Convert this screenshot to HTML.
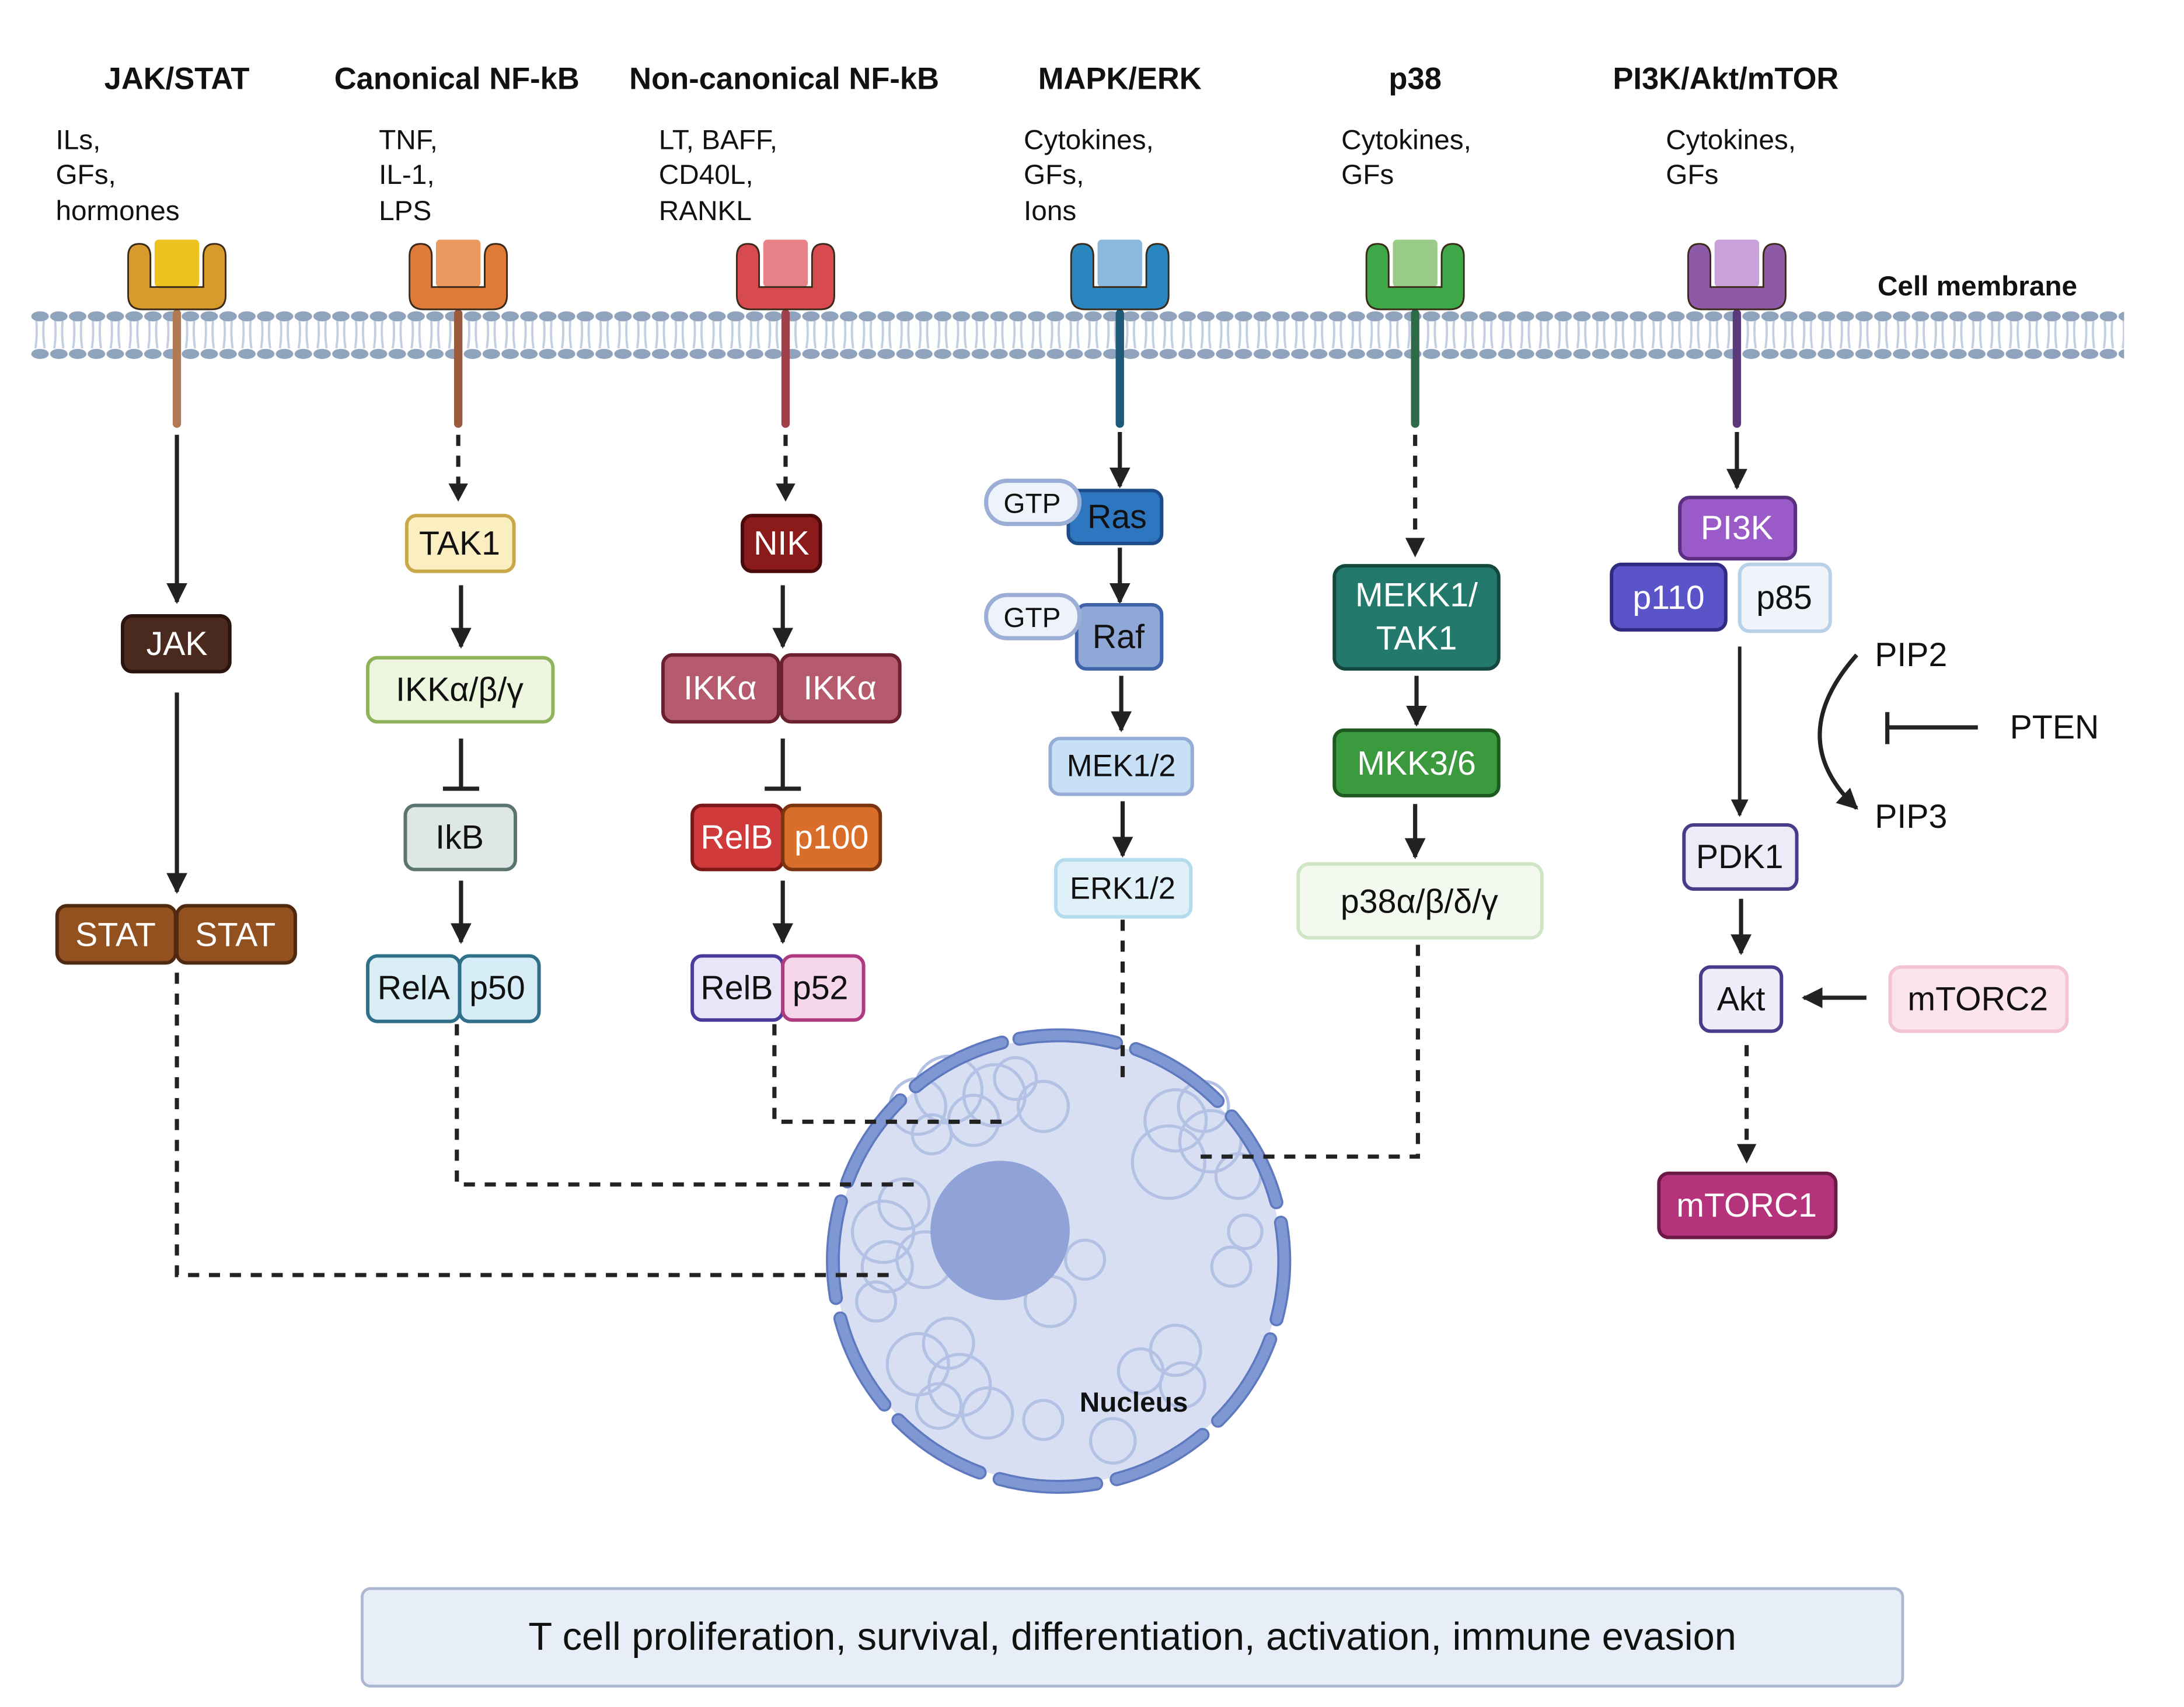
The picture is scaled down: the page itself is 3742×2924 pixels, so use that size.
<!DOCTYPE html>
<html><head><meta charset="utf-8"><style>
html,body{margin:0;padding:0;background:#fff}
svg{display:block}
text{font-family:"Liberation Sans",sans-serif}
</style></head><body>
<svg width="3742" height="2924" viewBox="0 0 1568 1225" preserveAspectRatio="none" xmlns="http://www.w3.org/2000/svg">
<defs>
<marker id="ah" viewBox="0 0 10 10" refX="9" refY="5" markerWidth="5" markerHeight="5" orient="auto" markerUnits="strokeWidth"><path d="M0,0 L10,5 L0,10 z" fill="#222"/></marker>
<pattern id="mem" x="22" y="0" width="13.5" height="1211" patternUnits="userSpaceOnUse">
<path d="M4,229 Q5,240 3.5,250 M9.5,229 Q8.5,240 10,250" stroke="#c3cfe0" stroke-width="1.6" fill="none"/>
<ellipse cx="6.75" cy="227" rx="6.3" ry="3.6" fill="#8fa3bd"/>
<ellipse cx="6.75" cy="254" rx="6.3" ry="3.6" fill="#8fa3bd"/>
</pattern>
</defs>
<rect width="1568" height="1225" fill="#fff"/>

<g font-weight="bold" font-size="22" text-anchor="middle" fill="#111">
<text x="127" y="64">JAK/STAT</text>
<text x="328" y="64">Canonical NF-kB</text>
<text x="563" y="64">Non-canonical NF-kB</text>
<text x="804" y="64">MAPK/ERK</text>
<text x="1016" y="64">p38</text>
<text x="1239" y="64">PI3K/Akt/mTOR</text>
</g>
<g font-size="20" fill="#111">
<text x="40" y="107">ILs,</text><text x="40" y="132">GFs,</text><text x="40" y="158">hormones</text>
<text x="272" y="107">TNF,</text><text x="272" y="132">IL-1,</text><text x="272" y="158">LPS</text>
<text x="473" y="107">LT, BAFF,</text><text x="473" y="132">CD40L,</text><text x="473" y="158">RANKL</text>
<text x="735" y="107">Cytokines,</text><text x="735" y="132">GFs,</text><text x="735" y="158">Ions</text>
<text x="963" y="107">Cytokines,</text><text x="963" y="132">GFs</text>
<text x="1196" y="107">Cytokines,</text><text x="1196" y="132">GFs</text>
</g>
<text x="1348" y="212" font-size="20" font-weight="bold" fill="#111">Cell membrane</text>

<rect x="22" y="220" width="1503" height="40" fill="url(#mem)"/>

<g stroke="#3a2a1a" stroke-width="1.2">
<g transform="translate(127,0)"><rect x="-3" y="222" width="6" height="85" rx="3" fill="#b07a55" stroke="none"/><rect x="-16" y="172" width="32" height="34" rx="3" fill="#eec21f" stroke="none"/><path d="M-35,184 q0,-9 8,-9 q8,0 8,9 v22 h38 v-22 q0,-9 8,-9 q8,0 8,9 v28 q0,10 -10,10 h-50 q-10,0 -10,-10z" fill="#d79a2c"/></g>
<g transform="translate(329,0)"><rect x="-3" y="222" width="6" height="85" rx="3" fill="#9a5a3e" stroke="none"/><rect x="-16" y="172" width="32" height="34" rx="3" fill="#ea9a5e" stroke="none"/><path d="M-35,184 q0,-9 8,-9 q8,0 8,9 v22 h38 v-22 q0,-9 8,-9 q8,0 8,9 v28 q0,10 -10,10 h-50 q-10,0 -10,-10z" fill="#e07a38"/></g>
<g transform="translate(564,0)"><rect x="-3" y="222" width="6" height="85" rx="3" fill="#a0404a" stroke="none"/><rect x="-16" y="172" width="32" height="34" rx="3" fill="#e88088" stroke="none"/><path d="M-35,184 q0,-9 8,-9 q8,0 8,9 v22 h38 v-22 q0,-9 8,-9 q8,0 8,9 v28 q0,10 -10,10 h-50 q-10,0 -10,-10z" fill="#d64a50"/></g>
<g transform="translate(804,0)"><rect x="-3" y="222" width="6" height="85" rx="3" fill="#1e5a78" stroke="none"/><rect x="-16" y="172" width="32" height="34" rx="3" fill="#8cb8dc" stroke="none"/><path d="M-35,184 q0,-9 8,-9 q8,0 8,9 v22 h38 v-22 q0,-9 8,-9 q8,0 8,9 v28 q0,10 -10,10 h-50 q-10,0 -10,-10z" fill="#2a86be"/></g>
<g transform="translate(1016,0)"><rect x="-3" y="222" width="6" height="85" rx="3" fill="#2c6a48" stroke="none"/><rect x="-16" y="172" width="32" height="34" rx="3" fill="#98cc88" stroke="none"/><path d="M-35,184 q0,-9 8,-9 q8,0 8,9 v22 h38 v-22 q0,-9 8,-9 q8,0 8,9 v28 q0,10 -10,10 h-50 q-10,0 -10,-10z" fill="#3ea848"/></g>
<g transform="translate(1247,0)"><rect x="-3" y="222" width="6" height="85" rx="3" fill="#5a3a7a" stroke="none"/><rect x="-16" y="172" width="32" height="34" rx="3" fill="#c8a2d8" stroke="none"/><path d="M-35,184 q0,-9 8,-9 q8,0 8,9 v22 h38 v-22 q0,-9 8,-9 q8,0 8,9 v28 q0,10 -10,10 h-50 q-10,0 -10,-10z" fill="#8e5aa8"/></g>
</g>

<circle cx="760" cy="905" r="160" fill="#d9dff2"/>
<g fill="none" stroke="#b3c1e4" stroke-width="2.2" transform="translate(9,4)">
<circle cx="650" cy="790" r="20"/><circle cx="672" cy="778" r="24"/><circle cx="690" cy="800" r="18"/><circle cx="705" cy="782" r="22"/><circle cx="720" cy="770" r="15"/><circle cx="740" cy="790" r="18"/><circle cx="660" cy="810" r="14"/>
<circle cx="835" cy="800" r="22"/><circle cx="855" cy="790" r="18"/><circle cx="860" cy="815" r="22"/><circle cx="830" cy="830" r="26"/><circle cx="880" cy="840" r="16"/>
<circle cx="625" cy="880" r="22"/><circle cx="640" cy="860" r="18"/><circle cx="628" cy="905" r="18"/><circle cx="655" cy="900" r="20"/><circle cx="620" cy="930" r="14"/>
<circle cx="650" cy="975" r="22"/><circle cx="672" cy="960" r="18"/><circle cx="680" cy="990" r="22"/><circle cx="700" cy="1010" r="18"/><circle cx="740" cy="1015" r="14"/><circle cx="665" cy="1005" r="16"/>
<circle cx="810" cy="980" r="16"/><circle cx="835" cy="965" r="18"/><circle cx="840" cy="990" r="16"/><circle cx="790" cy="1030" r="16"/><circle cx="875" cy="905" r="14"/><circle cx="885" cy="880" r="12"/>
<circle cx="745" cy="930" r="18"/><circle cx="770" cy="900" r="14"/>
</g>
<circle cx="718" cy="883" r="50" fill="#8fa3d8"/>
<circle cx="760" cy="905" r="162" fill="none" stroke="#5f79c0" stroke-width="10" stroke-dasharray="70 15" stroke-linecap="round" transform="rotate(-100 760 905)"/>
<circle cx="760" cy="905" r="162" fill="none" stroke="#7f97d2" stroke-width="7" stroke-dasharray="70 15" stroke-linecap="round" transform="rotate(-100 760 905)"/>
<text x="814" y="1013" font-size="20" font-weight="bold" fill="#111" text-anchor="middle">Nucleus</text>

<g stroke="#222" stroke-width="3" fill="none">
<line x1="127" y1="312" x2="127" y2="432" marker-end="url(#ah)"/>
<line x1="127" y1="497" x2="127" y2="640" marker-end="url(#ah)"/>
<line x1="331" y1="420" x2="331" y2="464" marker-end="url(#ah)"/>
<line x1="331" y1="632" x2="331" y2="676" marker-end="url(#ah)"/>
<line x1="562" y1="420" x2="562" y2="464" marker-end="url(#ah)"/>
<line x1="562" y1="632" x2="562" y2="676" marker-end="url(#ah)"/>
<line x1="804" y1="310" x2="804" y2="349" marker-end="url(#ah)"/>
<line x1="804" y1="393" x2="804" y2="432" marker-end="url(#ah)"/>
<line x1="805" y1="485" x2="805" y2="524" marker-end="url(#ah)"/>
<line x1="806" y1="575" x2="806" y2="614" marker-end="url(#ah)"/>
<line x1="1017" y1="485" x2="1017" y2="520" marker-end="url(#ah)"/>
<line x1="1016" y1="577" x2="1016" y2="615" marker-end="url(#ah)"/>
<line x1="1247" y1="310" x2="1247" y2="350" marker-end="url(#ah)"/>
<line x1="1249" y1="464" x2="1249" y2="585" stroke-width="2.5" marker-end="url(#ah)"/>
<line x1="1250" y1="645" x2="1250" y2="684" marker-end="url(#ah)"/>
<line x1="1340" y1="716" x2="1295" y2="716" marker-end="url(#ah)"/>
<path d="M1333,470 Q1280,530 1333,580" marker-end="url(#ah)"/>
<line x1="1420" y1="522" x2="1355" y2="522"/><line x1="1355" y1="511" x2="1355" y2="534"/>
<line x1="331" y1="530" x2="331" y2="566"/><line x1="318" y1="566" x2="344" y2="566"/>
<line x1="562" y1="530" x2="562" y2="566"/><line x1="549" y1="566" x2="575" y2="566"/>
</g>
<g stroke="#222" stroke-width="3" fill="none" stroke-dasharray="8 7">
<line x1="329" y1="312" x2="329" y2="350"/>
<line x1="564" y1="312" x2="564" y2="350"/>
<line x1="1016" y1="312" x2="1016" y2="390"/>
<line x1="1254" y1="750" x2="1254" y2="826"/>
<polyline points="127,698 127,915 645,915"/>
<polyline points="328,735 328,850 660,850"/>
<polyline points="556,735 556,805 725,805"/>
<line x1="806" y1="660" x2="806" y2="773"/>
<polyline points="1018,678 1018,830 860,830"/>
</g>
<g fill="#222">
<path d="M322,347 L336,347 L329,360z"/><path d="M557,347 L571,347 L564,360z"/>
<path d="M1009,386 L1023,386 L1016,400z"/><path d="M1247,821 L1261,821 L1254,835z"/>
</g>

<g stroke-width="2.5" font-size="24" text-anchor="middle">
<rect x="88" y="442" width="77" height="40" rx="7" fill="#4a2a1e" stroke="#2a150e"/><text x="127" y="470" fill="#fff">JAK</text>
<rect x="41" y="650" width="85" height="41" rx="7" fill="#93511f" stroke="#4f2a10"/><text x="83" y="679" fill="#fff">STAT</text>
<rect x="127" y="650" width="85" height="41" rx="7" fill="#93511f" stroke="#4f2a10"/><text x="169" y="679" fill="#fff">STAT</text>

<rect x="292" y="370" width="77" height="40" rx="7" fill="#fbeec0" stroke="#c9a84a"/><text x="330" y="398" fill="#111">TAK1</text>
<rect x="264" y="472" width="133" height="46" rx="7" fill="#eef6df" stroke="#8fb35a"/><text x="330" y="503" fill="#111">IKKα/β/γ</text>
<rect x="291" y="578" width="79" height="46" rx="7" fill="#dde8e6" stroke="#5b7470"/><text x="330" y="609" fill="#111">IkB</text>
<rect x="264" y="686" width="66" height="47" rx="7" fill="#d9eef4" stroke="#2f6f8a"/><text x="297" y="717" fill="#111">RelA</text>
<rect x="330" y="686" width="57" height="47" rx="7" fill="#d6ecf6" stroke="#2f6f8a"/><text x="357" y="717" fill="#111">p50</text>

<rect x="533" y="370" width="56" height="40" rx="7" fill="#8b1a1a" stroke="#4a0a0a"/><text x="561" y="398" fill="#fff">NIK</text>
<rect x="476" y="470" width="83" height="48" rx="7" fill="#b65a6e" stroke="#6b2030"/><text x="517" y="502" fill="#fff">IKKα</text>
<rect x="561" y="470" width="85" height="48" rx="7" fill="#b65a6e" stroke="#6b2030"/><text x="603" y="502" fill="#fff">IKKα</text>
<rect x="497" y="578" width="65" height="46" rx="7" fill="#d03a3a" stroke="#7a1818"/><text x="529" y="609" fill="#fff">RelB</text>
<rect x="562" y="578" width="70" height="46" rx="7" fill="#d96e2a" stroke="#7a3510"/><text x="597" y="609" fill="#fff">p100</text>
<rect x="497" y="686" width="65" height="46" rx="7" fill="#e9e4f7" stroke="#4a3a9a"/><text x="529" y="717" fill="#111">RelB</text>
<rect x="562" y="686" width="58" height="46" rx="7" fill="#f6d6ea" stroke="#b03a80"/><text x="589" y="717" fill="#111">p52</text>

<rect x="767" y="352" width="67" height="38" rx="7" fill="#2f76c0" stroke="#1c4d8a"/><text x="802" y="379" fill="#111">Ras</text>
<rect x="708" y="345" width="67" height="31" rx="15" fill="#eef2fa" stroke="#9aaed6" stroke-width="3"/><text x="741" y="368" fill="#111" font-size="20">GTP</text>
<rect x="773" y="434" width="61" height="46" rx="7" fill="#8fa8d8" stroke="#3e63a8"/><text x="803" y="465" fill="#111">Raf</text>
<rect x="708" y="427" width="67" height="31" rx="15" fill="#eef2fa" stroke="#9aaed6" stroke-width="3"/><text x="741" y="450" fill="#111" font-size="20">GTP</text>
<rect x="754" y="530" width="102" height="40" rx="7" fill="#c8e0f6" stroke="#94acd6"/><text x="805" y="557" fill="#111" font-size="22">MEK1/2</text>
<rect x="758" y="617" width="97" height="41" rx="7" fill="#e0f0f8" stroke="#b4dbee"/><text x="806" y="645" fill="#111" font-size="22">ERK1/2</text>

<rect x="958" y="406" width="118" height="74" rx="8" fill="#237a6c" stroke="#14483f"/><text x="1017" y="435" fill="#fff">MEKK1/</text><text x="1017" y="466" fill="#fff">TAK1</text>
<rect x="958" y="524" width="118" height="47" rx="7" fill="#3b9a3e" stroke="#1e5a20"/><text x="1017" y="556" fill="#fff">MKK3/6</text>
<rect x="932" y="620" width="175" height="53" rx="8" fill="#f3f9ee" stroke="#cfe6c6"/><text x="1019" y="655" fill="#111">p38α/β/δ/γ</text>

<rect x="1206" y="357" width="83" height="44" rx="7" fill="#9a5ac8" stroke="#5b2f80"/><text x="1247" y="387" fill="#fff">PI3K</text>
<rect x="1157" y="405" width="82" height="47" rx="7" fill="#5b54c8" stroke="#302a80"/><text x="1198" y="437" fill="#fff">p110</text>
<rect x="1249" y="405" width="65" height="48" rx="7" fill="#eef4fa" stroke="#b8d0e8"/><text x="1281" y="437" fill="#111">p85</text>
<rect x="1209" y="592" width="81" height="46" rx="7" fill="#efeaf8" stroke="#4a3a8a"/><text x="1249" y="623" fill="#111">PDK1</text>
<rect x="1221" y="694" width="58" height="46" rx="7" fill="#f0ecf9" stroke="#4a3a8a"/><text x="1250" y="725" fill="#111">Akt</text>
<rect x="1357" y="694" width="127" height="46" rx="8" fill="#fbe4ee" stroke="#f2c4d6"/><text x="1420" y="725" fill="#111">mTORC2</text>
<rect x="1191" y="842" width="127" height="46" rx="7" fill="#b5337a" stroke="#6b1a48"/><text x="1254" y="873" fill="#fff">mTORC1</text>
</g>
<g font-size="24" fill="#111">
<text x="1346" y="478">PIP2</text>
<text x="1443" y="530">PTEN</text>
<text x="1346" y="594">PIP3</text>
</g>

<rect x="260" y="1140" width="1106" height="70" rx="6" fill="#e8eef7" stroke="#aab8d0" stroke-width="2"/>
<text x="813" y="1184" font-size="28" text-anchor="middle" fill="#111">T cell proliferation, survival, differentiation, activation, immune evasion</text>
</svg>
</body></html>
